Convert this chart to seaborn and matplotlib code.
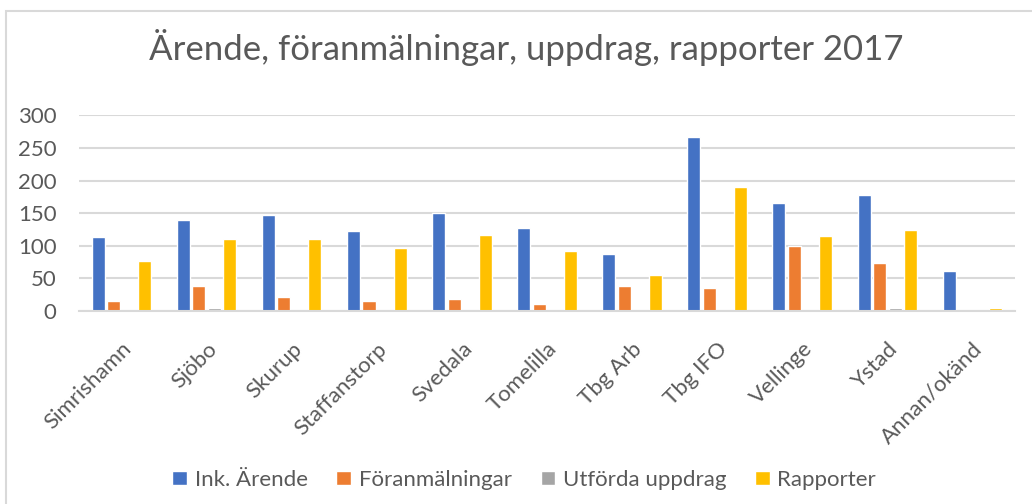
import matplotlib
matplotlib.use('Agg')
import matplotlib.pyplot as plt
import seaborn as sns
import pandas as pd
from matplotlib.patches import Rectangle

# --- DONNEES ---
kommuner = ['Simrishamn', 'Sjöbo', 'Skurup', 'Staffanstorp', 'Svedala', 'Tomelilla',
            'Tbg Arb', 'Tbg IFO', 'Vellinge', 'Ystad', 'Annan/okänd']
serier = ['Ink. Ärende', 'Föranmälningar', 'Utförda uppdrag', 'Rapporter']
ink_arende = [113, 139, 147, 122, 151, 128, 88, 267, 165, 178, 62]
foranmalningar = [15, 39, 21, 16, 18, 10, 39, 36, 99, 73, 0]
utforda_uppdrag = [2, 5, 0, 2, 2, 0, 0, 2, 2, 5, 0]
rapporter = [76, 110, 110, 96, 116, 92, 55, 190, 115, 124, 5]
farger = ['#4472C4', '#ED7D31', '#A5A5A5', '#FFC000']
y_ticks = [0, 50, 100, 150, 200, 250, 300]

df = pd.DataFrame({'kommun': kommuner * 4,
                   'serie': [s for s in serier for _ in kommuner],
                   'antal': ink_arende + foranmalningar + utforda_uppdrag + rapporter})

sns.set_style('white')
plt.rcParams['font.family'] = ['Lato', 'DejaVu Sans']
grey_text = '#595959'

fig = plt.figure(figsize=(10.32, 5.04), dpi=100)
ax = fig.add_axes([0.0765, 0.383, 0.907, 0.388])

sns.barplot(df, x='kommun', y='antal', hue='serie', palette=farger,
            width=0.73, gap=0.16, ax=ax, saturation=1, legend=True)

ax.set_ylim(0, 300)
ax.set_xlim(-0.5, len(kommuner) - 0.5)
ax.set_yticks(y_ticks)
ax.set_xlabel('')
ax.set_ylabel('')
ax.yaxis.grid(True, color='#D9D9D9', linewidth=1.5)
ax.set_axisbelow(True)
for side in ['top', 'right', 'left']:
    ax.spines[side].set_visible(False)
ax.spines['bottom'].set_color('#D9D9D9')
ax.spines['bottom'].set_linewidth(1.5)
ax.tick_params(axis='y', length=0, labelsize=16, labelcolor=grey_text, pad=16)
ax.tick_params(axis='x', length=0, labelsize=16, labelcolor=grey_text, pad=20)
plt.setp(ax.get_xticklabels(), rotation=45, ha='right', rotation_mode='anchor')

# Légende
handles, labels = ax.get_legend_handles_labels()
ax.get_legend().remove()
fig.legend(handles, labels, loc='center', bbox_to_anchor=(0.508, 0.048), ncol=4,
           frameon=False, fontsize=16, labelcolor=grey_text, handlelength=0.65,
           handleheight=0.65, handletextpad=0.35, columnspacing=1.3)

fig.text(0.510, 0.905, 'Ärende, föranmälningar, uppdrag, rapporter 2017',
         ha='center', va='center', fontsize=25, color=grey_text)

# Cadre
fig.patches.append(Rectangle((6 / 1032, -0.1), 1.2, 1 - 11 / 504 + 0.1,
                             transform=fig.transFigure, fill=False,
                             edgecolor='#D9D9D9', linewidth=1.5))

fig.savefig('out.png', dpi=100)
